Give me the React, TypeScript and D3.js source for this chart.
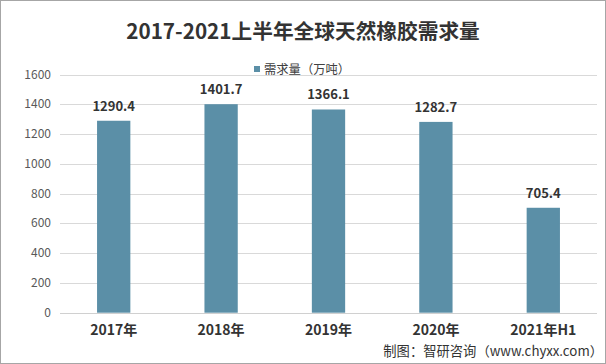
import React from "react";
import * as d3 from "d3";

const categories = ["2017年", "2018年", "2019年", "2020年", "2021年H1"];
const demand = [1290.4, 1401.7, 1366.1, 1282.7, 705.4];
const yTicks = [0, 200, 400, 600, 800, 1000, 1200, 1400, 1600];
const title = "2017-2021上半年全球天然橡胶需求量";
const legendLabel = "需求量（万吨）";
const sourceText = "制图：智研咨询（www.chyxx.com）";

const W = 606;
const H = 364;
const FONT = "'Noto Sans CJK SC', 'Noto Sans', sans-serif";
const BAR = "#5b8fa7";

export default function App() {
  const x = d3
    .scaleBand<string>()
    .domain(categories)
    .range([60, 597])
    .paddingInner(0.69)
    .paddingOuter(0.345);
  const y = d3.scaleLinear().domain([0, 1600]).range([312.7, 74.7]);

  return (
    <div style={{ position: "absolute", left: 0, top: 0 }}>
      <svg width={W} height={H} style={{ display: "block", background: "#fff" }}>
        <rect x={0.5} y={0.5} width={W - 1} height={H - 1} fill="#fff" stroke="#a6a6a6" />
        <text
          x={303}
          y={38.5}
          textAnchor="middle"
          fontFamily={FONT}
          fontWeight="bold"
          fontSize={20.7}
          fill="#333"
        >
          {title}
        </text>
        <rect x={254} y={66} width={6} height={6} fill={BAR} />
        <text x={264} y={73.5} fontFamily={FONT} fontSize={12.3} fill="#404040">
          {legendLabel}
        </text>
        {yTicks.map((t) => (
          <g key={t}>
            <line
              x1={60}
              x2={597}
              y1={Math.round(y(t)) + 0.5}
              y2={Math.round(y(t)) + 0.5}
              stroke={t === 0 ? "#d0d0d0" : "#d9d9d9"}
              strokeWidth={1}
            />
            <text
              x={51}
              y={y(t) + 4}
              textAnchor="end"
              fontFamily={FONT}
              fontSize={12}
              fill="#595959"
            >
              {t}
            </text>
          </g>
        ))}
        {categories.map((c, i) => (
          <g key={c}>
            <rect
              x={x(c)!}
              y={y(demand[i])}
              width={x.bandwidth()}
              height={y(0) - y(demand[i])}
              fill={BAR}
            />
            <text
              x={x(c)! + x.bandwidth() / 2}
              y={y(demand[i]) - 10}
              textAnchor="middle"
              fontFamily={FONT}
              fontWeight="bold"
              fontSize={13}
              fill="#333"
            >
              {demand[i].toFixed(1)}
            </text>
            <text
              x={x(c)! + x.bandwidth() / 2}
              y={335}
              textAnchor="middle"
              fontFamily={FONT}
              fontWeight="bold"
              fontSize={14}
              fill="#333"
            >
              {c}
            </text>
          </g>
        ))}
        <text
          x={603}
          y={356}
          textAnchor="end"
          fontFamily={FONT}
          fontSize={13.3}
          fill="#333"
        >
          {sourceText}
        </text>
      </svg>
    </div>
  );
}
